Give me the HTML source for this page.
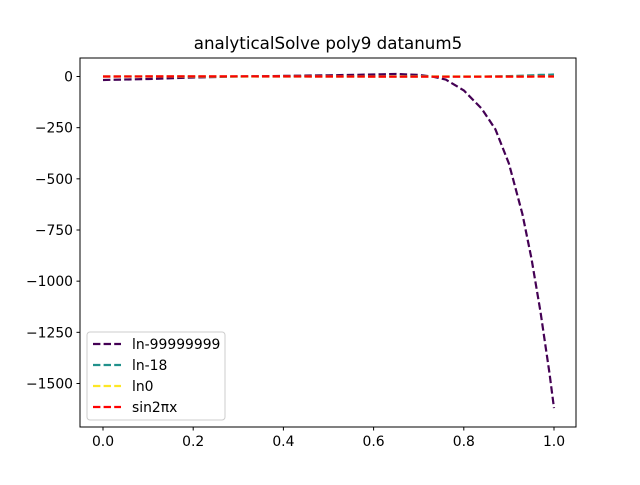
<!DOCTYPE html>
<html><head><meta charset="utf-8"><style>
body{margin:0;background:#fff;}
svg text{font-family:"DejaVu Sans","Liberation Sans",sans-serif;fill:#000;}
</style></head><body>
<svg id="chart" width="640" height="480" xmlns="http://www.w3.org/2000/svg">
<rect width="640" height="480" fill="#fff"/>
<text x="328" y="49" font-size="16.7" text-anchor="middle">analyticalSolve poly9 datanum5</text>
<g id="plot"></g>
<rect x="80" y="58" width="496" height="369" fill="none" stroke="#000" stroke-width="1"/>
<g id="axes"></g>
<g id="legend"></g>
</svg>
<script>
const xs = [0,0.1,0.2,0.3,0.4,0.5,0.6,0.65,0.7,0.73,0.76,0.8,0.84,0.87,0.9,0.93,0.95,0.97,0.99,1.0];
const lnBig = [-17,-12,-5,0,3,6,10,12,8,0,-15,-68,-158,-258,-425,-672,-890,-1150,-1450,-1620];
const ln18 = [0,0,0,0,0,0,0,0,0,0,0,0,0,1,2,4,6,8,9,10];
const ln0 = [0,0,0,0,0,0,0,0,0,0,0,0,0,0,0,0,0,0,0,0];
const sinv = [0,0.59,0.95,0.95,0.59,0,-0.59,-0.81,-0.95,-0.99,-1,-0.95,-0.84,-0.73,-0.59,-0.43,-0.31,-0.19,-0.06,0];
const seriesNames = ["ln-99999999","ln-18","ln0","sin2πx"];
const seriesColors = ["#440154","#21918c","#fde725","#ff0000"];
const xTicks = [0,0.2,0.4,0.6,0.8,1.0];
const xTickLabels = ["0.0","0.2","0.4","0.6","0.8","1.0"];
const yTicks = [0,-250,-500,-750,-1000,-1250,-1500];
const yTickLabels = ["0","−250","−500","−750","−1000","−1250","−1500"];
const NS="http://www.w3.org/2000/svg";
const X = v => 103 + v*451;
const Y = v => 76.5 - v*(307/1500);
const plot=document.getElementById('plot'), axes=document.getElementById('axes'), legend=document.getElementById('legend');
function mk(tag,attrs,parent){const e=document.createElementNS(NS,tag);for(const k in attrs)e.setAttribute(k,attrs[k]);parent.appendChild(e);return e;}
[lnBig,ln18,ln0,sinv].forEach((s,i)=>{
  const d=s.map((v,j)=>(j?'L':'M')+X(xs[j]).toFixed(1)+','+Y(v).toFixed(1)).join('');
  const p=mk('path',{d:d,fill:'none',stroke:seriesColors[i],'stroke-width':2.2,'stroke-dasharray':'7.4,3.2','stroke-linejoin':'round'},plot);
  
  
});
xTicks.forEach((t,i)=>{
  const l=mk('line',{x1:X(t),x2:X(t),y1:427,y2:430.5,stroke:'#000'},axes);
  
  
  const tx=mk('text',{x:X(t),y:446,'font-size':13.9,'text-anchor':'middle'},axes);
  tx.textContent=xTickLabels[i];
  
  
});
yTicks.forEach((t,i)=>{
  const l=mk('line',{x1:76.5,x2:80,y1:Y(t),y2:Y(t),stroke:'#000'},axes);
  
  
  const tx=mk('text',{x:73,y:Y(t)+5,'font-size':13.9,'text-anchor':'end'},axes);
  tx.textContent=yTickLabels[i];
  
  
});
const box=mk('rect',{x:87,y:332,width:138,height:88,rx:3,fill:'#fff','fill-opacity':0.8,stroke:'#ccc'},legend);


seriesNames.forEach((n,i)=>{
  const y=344+i*21;
  const l=mk('line',{x1:93,x2:121,y1:y,y2:y,stroke:seriesColors[i],'stroke-width':2.2,'stroke-dasharray':'7.4,3.2'},legend);
  
  
  const tx=mk('text',{x:132,y:y+5,'font-size':13.9},legend);
  tx.textContent=n;
  
  
});
</script>
</body></html>
